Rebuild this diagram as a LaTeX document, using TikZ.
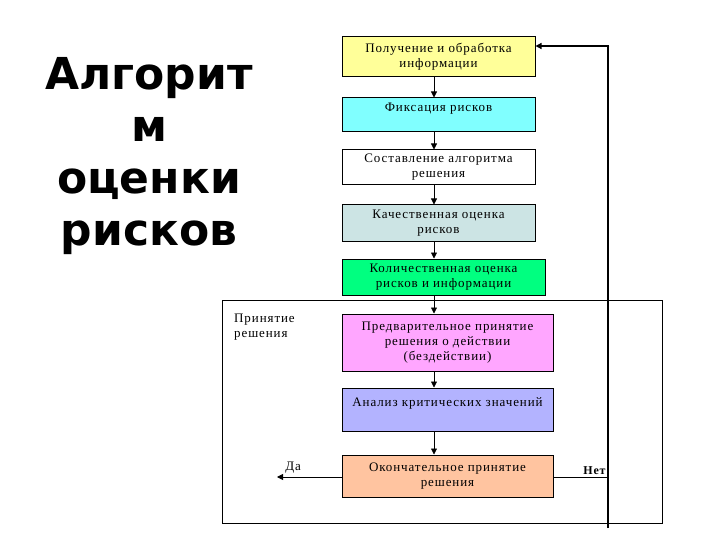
\documentclass[tikz,border=0pt]{standalone}
\usepackage{fontspec}
\setmainfont{Liberation Serif}[LetterSpace=7]
\newfontfamily\titlefont{DejaVu Sans}
\usetikzlibrary{arrows.meta}
\definecolor{infoyellow}{HTML}{FFFF99}
\definecolor{fixcyan}{HTML}{80FFFF}
\definecolor{qualgrey}{HTML}{CCE4E4}
\definecolor{quantgreen}{HTML}{00FF80}
\definecolor{prepink}{HTML}{FFA6FF}
\definecolor{analavender}{HTML}{B3B3FF}
\definecolor{finalpeach}{HTML}{FFC4A0}
\tikzset{
  stagebox/.style={draw, line width=1pt, align=center, inner sep=0pt,
    font=\fontsize{13}{15}\selectfont},
  flow/.style={-{Triangle[length=6pt,width=6pt]}, line width=0.8pt},
  plain/.style={font=\fontsize{13}{15}\selectfont, align=left, inner sep=0pt}
}
\begin{document}
\begin{tikzpicture}[x=1pt,y=-1pt]
  \useasboundingbox (0,0) rectangle (720,540);
  % title
  \node[font=\titlefont\bfseries\fontsize{44}{52}\selectfont, align=center] (title) at (149,156)
    {Алгорит\\м\\оценки\\рисков};
  % stages
  \node[stagebox, fill=infoyellow, minimum width=193pt, minimum height=40pt] (info) at (438.5,57)
    {Получение и обработка\\информации};
  \node[stagebox, fill=fixcyan, minimum width=193pt, minimum height=34pt] (fix) at (438.5,115)
    {Фиксация рисков\\\mbox{}};
  \node[stagebox, fill=white, minimum width=193pt, minimum height=35pt] (algo) at (438.5,167.5)
    {Составление алгоритма\\решения};
  \node[stagebox, fill=qualgrey, minimum width=193pt, minimum height=36pt] (qual) at (438.5,223)
    {Качественная оценка\\рисков};
  \node[stagebox, fill=quantgreen, minimum width=203pt, minimum height=36pt] (quant) at (443.5,277)
    {Количественная оценка\\рисков и информации};
  % decision frame
  \draw[line width=1pt] (222,300) rectangle (662,523);
  \node[plain, anchor=north west] (framelbl) at (234,314) {Принятие\\решения};
  \node[stagebox, fill=prepink, minimum width=211pt, minimum height=57pt] (pre) at (447.5,342.5)
    {Предварительное принятие\\решения о действии\\(бездействии)};
  \node[stagebox, fill=analavender, minimum width=211pt, minimum height=43pt] (crit) at (447.5,409.5)
    {Анализ критических значений\\\mbox{}};
  \node[stagebox, fill=finalpeach, minimum width=211pt, minimum height=42pt] (final) at (447.5,476)
    {Окончательное принятие\\решения};
  % arrows down
  \coordinate (axis) at (434,0);
  \foreach \a/\b in {info/fix, fix/algo, algo/qual, qual/quant, quant/pre, pre/crit, crit/final}
    \draw[flow] (\a.south -| axis) -- (\b.north -| axis);
  % yes / no
  \coordinate (yes) at (277,477);
  \coordinate (loopbot) at (608,528);
  \coordinate (looptop) at (608,46);
  \draw[flow] (final.west |- yes) -- (yes) node[pos=0.75, above=0pt, font=\fontsize{13}{15}\selectfont] {Да};
  \draw[line width=0.8pt] (final.east |- yes) -- (loopbot |- yes)
    node[pos=1, anchor=south east, inner sep=2pt, font=\bfseries\fontsize{12}{15}\selectfont] {Нет};
  \draw[line width=2.5pt] (loopbot) -- (looptop);
  \draw[flow, line width=1.2pt] ([xshift=1.25pt]looptop) -- (info.east |- looptop);
\end{tikzpicture}
\end{document}
